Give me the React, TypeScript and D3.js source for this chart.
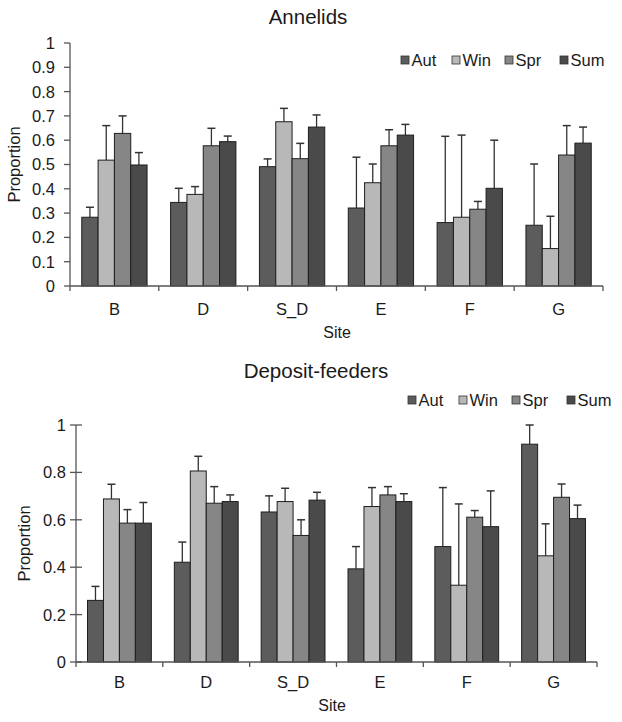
import React from "react";
import * as d3 from "d3";

const sites = ["B", "D", "S_D", "E", "F", "G"];
const seasons = ["Aut", "Win", "Spr", "Sum"];
const seasonColors = ["#5c5c5c", "#b8b8b8", "#868686", "#4a4a4a"];

// Annelids: mean and upper error (top of error bar)
const annAut = [0.283, 0.344, 0.491, 0.321, 0.261, 0.25];
const annAutErr = [0.324, 0.402, 0.523, 0.53, 0.616, 0.502];
const annWin = [0.518, 0.377, 0.676, 0.425, 0.283, 0.154];
const annWinErr = [0.66, 0.409, 0.731, 0.502, 0.621, 0.287];
const annSpr = [0.628, 0.577, 0.524, 0.577, 0.316, 0.539];
const annSprErr = [0.7, 0.649, 0.587, 0.643, 0.348, 0.66];
const annSum = [0.498, 0.594, 0.654, 0.621, 0.402, 0.588];
const annSumErr = [0.549, 0.617, 0.704, 0.665, 0.6, 0.654];

// Deposit-feeders
const depAut = [0.26, 0.421, 0.633, 0.393, 0.487, 0.919];
const depAutErr = [0.319, 0.506, 0.701, 0.487, 0.736, 1.0];
const depWin = [0.688, 0.806, 0.677, 0.656, 0.324, 0.448];
const depWinErr = [0.75, 0.868, 0.733, 0.736, 0.667, 0.583];
const depSpr = [0.586, 0.67, 0.534, 0.705, 0.611, 0.695];
const depSprErr = [0.643, 0.74, 0.6, 0.74, 0.639, 0.751];
const depSum = [0.586, 0.677, 0.683, 0.677, 0.571, 0.605];
const depSumErr = [0.673, 0.705, 0.716, 0.71, 0.722, 0.662];

const annTicks = [0, 0.1, 0.2, 0.3, 0.4, 0.5, 0.6, 0.7, 0.8, 0.9, 1];
const depTicks = [0, 0.2, 0.4, 0.6, 0.8, 1];

const FONT = "'Liberation Sans', Arial, Helvetica, sans-serif";
const TXT = "#1a1a1a";

type PanelProps = {
  title: string;
  titleX: number;
  titleY: number;
  left: number;
  right: number;
  top: number;
  bottom: number;
  ticks: number[];
  values: number[][];
  errs: number[][];
  legendX: number;
  legendY: number;
  tickCross: boolean;
  labelRight: number;
  siteY: number;
  siteX: number;
  propX: number;
  catLabelY: number;
};

function Panel(p: PanelProps) {
  const y = d3.scaleLinear().domain([0, 1]).range([p.bottom, p.top]);
  const x0 = d3
    .scaleBand<string>()
    .domain(sites)
    .range([p.left, p.right])
    .paddingInner(0.265)
    .paddingOuter(0.1325);
  const x1 = d3
    .scaleBand<string>()
    .domain(seasons)
    .range([0, x0.bandwidth()]);
  const step = x0.step();
  const legendOffsets = [0, 51, 104, 159];
  const fmt = (v: number) => (v === 0 || v === 1 ? String(v) : d3.format(".1f")(v));
  const axisColor = "#555";
  return (
    <g>
      <text
        x={p.titleX}
        y={p.titleY}
        textAnchor="middle"
        fontSize={20.5}
        fontFamily={FONT}
        fill={TXT}
      >
        {p.title}
      </text>
      {/* legend */}
      {seasons.map((s, i) => (
        <g key={s} transform={`translate(${p.legendX + legendOffsets[i]},${p.legendY})`}>
          <rect x={0} y={-4} width={8} height={8} fill={seasonColors[i]} stroke="#333" strokeWidth={0.8} />
          <text x={10.5} y={6} fontSize={16.5} fontFamily={FONT} fill={TXT}>
            {s}
          </text>
        </g>
      ))}
      {/* bars */}
      {sites.map((site, si) => (
        <g key={site} transform={`translate(${x0(site)},0)`}>
          {seasons.map((s, k) => {
            const v = p.values[k][si];
            const e = p.errs[k][si];
            const bx = x1(s) as number;
            const bw = x1.bandwidth();
            const cx = bx + bw / 2;
            return (
              <g key={s}>
                <line x1={cx} x2={cx} y1={y(v)} y2={y(e)} stroke="#333" strokeWidth={1.3} />
                <line x1={cx - 4} x2={cx + 4} y1={y(e)} y2={y(e)} stroke="#333" strokeWidth={1.5} />
                <rect
                  x={bx}
                  y={y(v)}
                  width={bw}
                  height={p.bottom - y(v)}
                  fill={seasonColors[k]}
                  stroke="#1e1e1e"
                  strokeWidth={1}
                />
              </g>
            );
          })}
        </g>
      ))}
      {/* y axis */}
      <line x1={p.left} x2={p.left} y1={p.top} y2={p.bottom} stroke={axisColor} strokeWidth={1.3} />
      {p.ticks.map((t) => (
        <g key={t}>
          <line
            x1={p.left - 6}
            x2={p.tickCross ? p.left + 6 : p.left}
            y1={y(t)}
            y2={y(t)}
            stroke={axisColor}
            strokeWidth={1.3}
          />
          <text
            x={p.labelRight}
            y={y(t)}
            dy="0.36em"
            textAnchor="end"
            fontSize={16.5}
            fontFamily={FONT}
            fill={TXT}
          >
            {fmt(t)}
          </text>
        </g>
      ))}
      {/* x axis */}
      <line x1={p.left} x2={p.right} y1={p.bottom} y2={p.bottom} stroke={axisColor} strokeWidth={1.3} />
      {d3.range(sites.length + 1).map((i) => (
        <line
          key={i}
          x1={p.left + i * step}
          x2={p.left + i * step}
          y1={p.bottom}
          y2={p.bottom + 5}
          stroke={axisColor}
          strokeWidth={1.3}
        />
      ))}
      {sites.map((site) => (
        <text
          key={site}
          x={(x0(site) as number) + x0.bandwidth() / 2}
          y={p.catLabelY}
          textAnchor="middle"
          fontSize={16.5}
          fontFamily={FONT}
          fill={TXT}
        >
          {site}
        </text>
      ))}
      <text x={p.siteX} y={p.siteY} textAnchor="middle" fontSize={16} fontFamily={FONT} fill={TXT}>
        Site
      </text>
      <text
        transform={`translate(${p.propX},${(p.top + p.bottom) / 2}) rotate(-90)`}
        textAnchor="middle"
        fontSize={16.5}
        fontFamily={FONT}
        fill={TXT}
      >
        Proportion
      </text>
    </g>
  );
}

export default function App() {
  return (
    <svg
      width={622}
      height={722}
      style={{ position: "absolute", left: 0, top: 0, background: "#fff" }}
    >
      <rect width={622} height={722} fill="#fff" />
      <Panel
        title="Annelids"
        titleX={308}
        titleY={24}
        left={70}
        right={603}
        top={43}
        bottom={286}
        ticks={annTicks}
        values={[annAut, annWin, annSpr, annSum]}
        errs={[annAutErr, annWinErr, annSprErr, annSumErr]}
        legendX={401}
        legendY={60}
        tickCross={false}
        labelRight={55}
        siteY={338}
        siteX={337}
        propX={20}
        catLabelY={315}
      />
      <Panel
        title="Deposit-feeders"
        titleX={316}
        titleY={378}
        left={76}
        right={597}
        top={425}
        bottom={662}
        ticks={depTicks}
        values={[depAut, depWin, depSpr, depSum]}
        errs={[depAutErr, depWinErr, depSprErr, depSumErr]}
        legendX={408}
        legendY={400}
        tickCross={true}
        labelRight={66}
        siteY={711}
        siteX={332}
        propX={30}
        catLabelY={688}
      />
    </svg>
  );
}
